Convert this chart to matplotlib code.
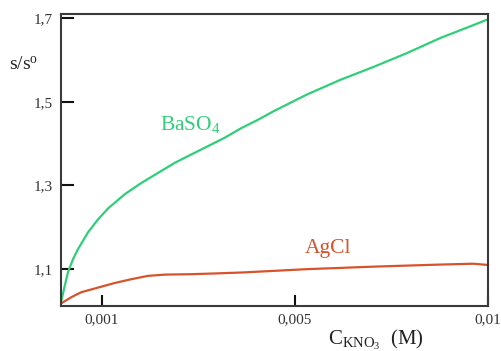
import numpy as np
import matplotlib
matplotlib.use("Agg")
import matplotlib.pyplot as plt

# valores (C de KNO3 em M, razão s/s0)
baso4_c = [0, 0.00009, 0.000171, 0.000293, 0.000415, 0.000659, 0.000903,
           0.001125, 0.001471, 0.001815, 0.002161, 0.002507, 0.002851,
           0.003197, 0.003543, 0.003887, 0.004234, 0.004551, 0.005303,
           0.006166, 0.007029, 0.007894, 0.008757, 0.009619, 0.0100]
baso4_s = [1.021, 1.060, 1.093, 1.124, 1.148, 1.188, 1.219, 1.245, 1.279,
           1.306, 1.330, 1.354, 1.374, 1.394, 1.414, 1.437, 1.457, 1.477,
           1.517, 1.552, 1.583, 1.616, 1.652, 1.683, 1.697]

agcl_c = [0, 0.000251, 0.000495, 0.000903, 0.001264, 0.001607, 0.001953,
          0.0023, 0.002851, 0.003404, 0.003887, 0.004234, 0.005303,
          0.007029, 0.008757, 0.009619, 0.0100]
agcl_s = [1.018, 1.033, 1.045, 1.056, 1.067, 1.076, 1.084, 1.087, 1.088,
          1.090, 1.092, 1.094, 1.100, 1.106, 1.111, 1.113, 1.110]

xticks = [0.001, 0.005, 0.01]
xticklabels = ["0,001", "0,005", "0,01"]
yticks = [1.1, 1.3, 1.5, 1.7]
yticklabels = ["1,1", "1,3", "1,5", "1,7"]

# o eixo x do desenho original não é linear: escala por partes
escala_c = [0, 0.001, 0.005, 0.01]
escala_f = [0, 0.096, 0.548, 1.0]

def fwd(x):
    return np.interp(x, escala_c, escala_f)

def inv(f):
    return np.interp(f, escala_f, escala_c)

plt.rcParams["font.family"] = ["Liberation Serif", "DejaVu Serif"]
plt.rcParams["mathtext.fontset"] = "custom"
plt.rcParams["mathtext.rm"] = "Liberation Serif"
plt.rcParams["mathtext.it"] = "Liberation Serif:italic"

verde = "#2fcf79"
vermelho = "#d6532c"
cinza = "#3a3a3a"

fig = plt.figure(figsize=(5.01, 3.51), dpi=100)
ax = fig.add_axes([0.1218, 0.1282, 0.8523, 0.8318])
ax.set_xscale("function", functions=(fwd, inv))

ax.plot(baso4_c, baso4_s, color=verde, lw=1.6, solid_joinstyle="round")
ax.plot(agcl_c, agcl_s, color=vermelho, lw=1.6, solid_joinstyle="round")

ax.set_xlim(0, 0.01)
ax.set_ylim(1.012, 1.7095)

ax.set_xticks(xticks)
ax.set_xticklabels(xticklabels)
ax.set_yticks(yticks)
ax.set_yticklabels(yticklabels)
ax.minorticks_off()
ax.tick_params(axis="both", direction="in", width=1.5, color="#111111",
               labelsize=11, labelcolor="#333333")
ax.tick_params(axis="y", length=9, pad=6)
ax.tick_params(axis="x", length=8, pad=5)

for s in ax.spines.values():
    s.set_color(cinza)
    s.set_linewidth(1.5)

ax.text(0.0022, 1.433, r"BaSO$_4$", color=verde, fontsize=15.5,
        ha="left", va="baseline")
ax.text(0.00526, 1.138, "AgCl", color=vermelho, fontsize=15.5,
        ha="left", va="baseline")

ax.text(-0.089, 0.825, r"s/s$^{\mathrm{o}}$", transform=ax.transAxes,
        fontsize=14, ha="center", va="center", color="#222222")

ax.set_xlabel(r"C$_{\mathrm{KNO_3}}$  (M)", fontsize=15, color="#222222")
ax.xaxis.set_label_coords(0.738, -0.075)
ax.xaxis.label.set_va("top")

fig.savefig("out.png", dpi=100)
